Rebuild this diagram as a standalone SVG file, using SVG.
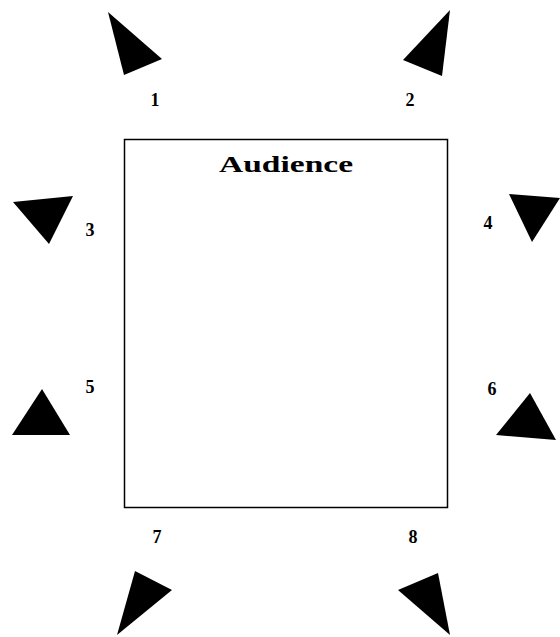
<svg xmlns="http://www.w3.org/2000/svg" width="560" height="637" viewBox="0 0 560 637">
<style>
.tri{fill:#000;stroke:none}
.num{font-family:"Liberation Serif",serif;font-weight:bold;font-size:18px;fill:#000;text-anchor:middle}
.title{font-family:"Liberation Serif",serif;font-weight:bold;font-size:24px;fill:#000;text-anchor:middle}
</style>
<rect width="560" height="637" fill="#fff"/>
<g id="stage">
<rect x="124.5" y="139.5" width="323" height="368" fill="#fff" stroke="#000" stroke-width="1.5"/>
<text class="title" x="286" y="172" textLength="134" lengthAdjust="spacingAndGlyphs">Audience</text>
</g>
<g id="speaker1"><polygon class="tri" points="108,12 162,59 124,75"/><text class="num" x="155" y="106">1</text></g>
<g id="speaker2"><polygon class="tri" points="450,10 442,76 403,60"/><text class="num" x="410" y="106">2</text></g>
<g id="speaker3"><polygon class="tri" points="13,202 73,196 49,244"/><text class="num" x="90" y="236">3</text></g>
<g id="speaker4"><polygon class="tri" points="509,194 560,198 532,242"/><text class="num" x="488" y="229">4</text></g>
<g id="speaker5"><polygon class="tri" points="42,389 12,435 70,435"/><text class="num" x="90" y="393">5</text></g>
<g id="speaker6"><polygon class="tri" points="530,393 496,435 556,440"/><text class="num" x="492" y="395">6</text></g>
<g id="speaker7"><polygon class="tri" points="135,571 172,590 117,635"/><text class="num" x="157" y="543">7</text></g>
<g id="speaker8"><polygon class="tri" points="438,573 398,590 450,635"/><text class="num" x="413" y="543">8</text></g>
</svg>
